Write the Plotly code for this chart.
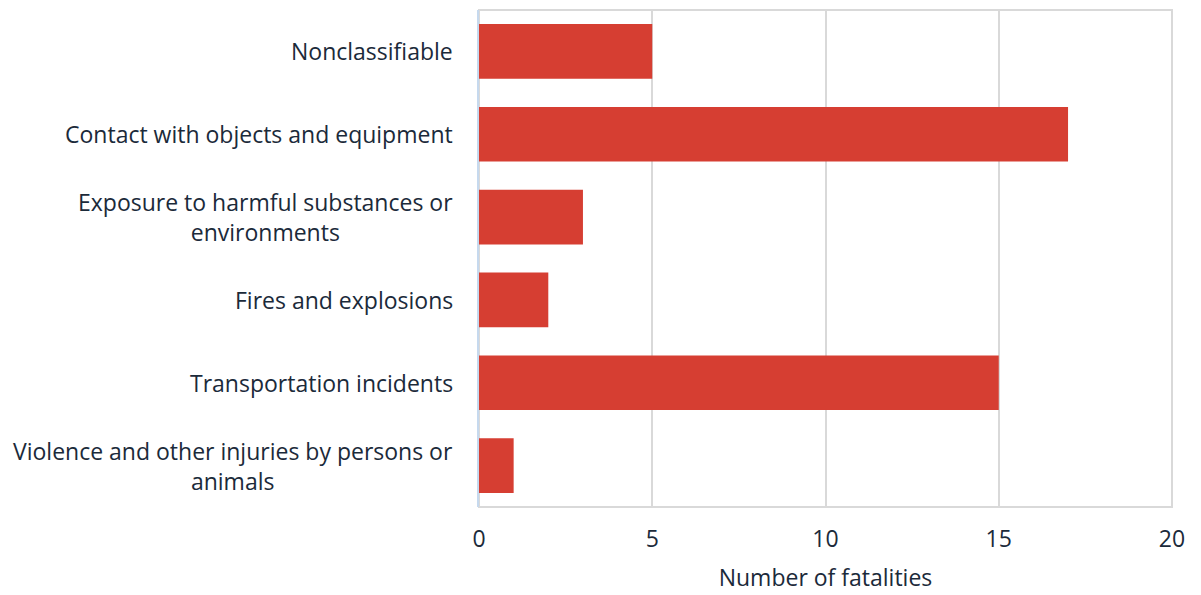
import plotly.graph_objects as go

# Fatal work injuries by event type
categories = [
    "Nonclassifiable",
    "Contact with objects and equipment",
    "Exposure to harmful substances or<br>environments",
    "Fires and explosions",
    "Transportation incidents",
    "Violence and other injuries by persons or<br>animals",
]
fatalities = [5, 17, 3, 2, 15, 1]
x_ticks = [0, 5, 10, 15, 20]

BAR_COLOR = "#D63E32"
TEXT_COLOR = "#1B2A3A"
GRID_COLOR = "#D9D9D9"
FONT = "Open Sans"
FONT_SIZE = 23

fig = go.Figure(
    go.Bar(
        x=fatalities,
        y=list(range(len(categories))),
        orientation="h",
        marker=dict(color=BAR_COLOR, line=dict(width=0)),
        width=0.66,
        hoverinfo="x",
    )
)

# Category labels: wrapped lines centred on each other, block right-aligned to the axis
for i, label in enumerate(categories):
    fig.add_annotation(
        x=0, xref="paper", xshift=-24,
        y=i, yref="y",
        text=label,
        showarrow=False,
        xanchor="right", yanchor="middle",
        align="center",
        font=dict(family=FONT, size=FONT_SIZE, color=TEXT_COLOR),
    )

# Plot frame
fig.add_shape(
    type="rect", xref="paper", yref="paper",
    x0=0, x1=1, y0=0, y1=1,
    line=dict(color=GRID_COLOR, width=2),
    layer="below",
)

fig.update_layout(
    width=1201, height=595,
    margin=dict(l=479, r=29, t=10, b=88),
    paper_bgcolor="white",
    plot_bgcolor="white",
    showlegend=False,
    font=dict(family=FONT, size=FONT_SIZE, color=TEXT_COLOR),
    xaxis=dict(
        range=[0, 20],
        tickvals=x_ticks,
        showgrid=True,
        gridcolor=GRID_COLOR,
        gridwidth=2,
        zeroline=False,
        showline=False,
        ticks="",
        ticklabelstandoff=16,
        tickfont=dict(family=FONT, size=FONT_SIZE, color=TEXT_COLOR),
        title=dict(
            text="Number of fatalities",
            font=dict(family=FONT, size=FONT_SIZE, color=TEXT_COLOR),
            standoff=16,
        ),
    ),
    yaxis=dict(
        range=[len(categories) - 0.5, -0.5],
        showticklabels=False,
        showgrid=False,
        zeroline=False,
        showline=True,
        linecolor="#C6D9EE",
        linewidth=2,
        ticks="",
    ),
)

fig.write_html("out.html")
